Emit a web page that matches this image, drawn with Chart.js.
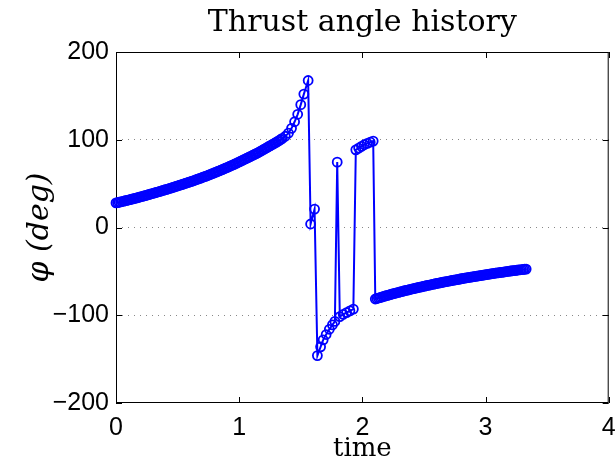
<head>
  <meta charset="utf-8" />
  <title>Thrust angle history</title>
  <script src="https://cdn.jsdelivr.net/npm/chart.js"></script>
  <style>
    body { margin: 0; background: #fff; }
  </style>
</head>

<body>
  <canvas id="thrust" width="615" height="468"></canvas>
</body>

<script>
  // smooth rise before the first switch
  const riseTimes = [
    0.0000, 0.0125, 0.0250, 0.0375, 0.0500, 0.0625, 0.0750, 0.0875, 0.1000, 0.1125,
    0.1250, 0.1375, 0.1500, 0.1625, 0.1750, 0.1875, 0.2000, 0.2125, 0.2250, 0.2375,
    0.2500, 0.2625, 0.2750, 0.2875, 0.3000, 0.3125, 0.3250, 0.3375, 0.3500, 0.3625,
    0.3750, 0.3875, 0.4000, 0.4125, 0.4250, 0.4375, 0.4500, 0.4625, 0.4750, 0.4875,
    0.5000, 0.5125, 0.5250, 0.5375, 0.5500, 0.5625, 0.5750, 0.5875, 0.6000, 0.6125,
    0.6250, 0.6375, 0.6500, 0.6625, 0.6750, 0.6875, 0.7000, 0.7125, 0.7250, 0.7375,
    0.7500, 0.7625, 0.7750, 0.7875, 0.8000, 0.8125, 0.8250, 0.8375, 0.8500, 0.8625,
    0.8750, 0.8875, 0.9000, 0.9125, 0.9250, 0.9375, 0.9500, 0.9625, 0.9750, 0.9875,
    1.0000, 1.0125, 1.0250, 1.0375, 1.0500, 1.0625, 1.0750, 1.0875, 1.1000, 1.1125,
    1.1250, 1.1375, 1.1500, 1.1625, 1.1750, 1.1875, 1.2000, 1.2125, 1.2250, 1.2375,
    1.2500, 1.2625, 1.2750, 1.2875, 1.3000, 1.3125, 1.3250, 1.3375, 1.3500, 1.3750,
    1.4000, 1.4250, 1.4500, 1.4750, 1.5000, 1.5250, 1.5600
  ];
  const riseAngles = [
    28.0, 28.4, 28.8, 29.2, 29.6, 30.0, 30.5, 30.9, 31.3, 31.7,
    32.2, 32.6, 33.1, 33.5, 34.0, 34.5, 35.0, 35.4, 35.9, 36.4,
    36.9, 37.4, 37.9, 38.4, 38.9, 39.4, 39.9, 40.4, 40.9, 41.4,
    42.0, 42.5, 43.0, 43.5, 44.1, 44.6, 45.2, 45.7, 46.3, 46.8,
    47.4, 47.9, 48.5, 49.0, 49.6, 50.2, 50.8, 51.4, 52.0, 52.6,
    53.2, 53.8, 54.4, 55.0, 55.7, 56.3, 57.0, 57.6, 58.3, 58.9,
    59.6, 60.3, 61.0, 61.7, 62.4, 63.1, 63.8, 64.5, 65.3, 66.0,
    66.8, 67.5, 68.3, 69.0, 69.8, 70.6, 71.4, 72.2, 73.0, 73.8,
    74.7, 75.5, 76.4, 77.2, 78.1, 78.9, 79.8, 80.6, 81.5, 82.4,
    83.3, 84.2, 85.1, 86.0, 87.0, 88.0, 89.0, 90.0, 91.0, 92.0,
    93.0, 94.0, 95.0, 96.0, 97.0, 98.1, 99.2, 100.3, 101.5, 104.0,
    107.5, 113.0, 120.5, 129.0, 140.0, 152.0, 167.5
  ];

  // switching part
  const switchTimes = [
    1.580, 1.612, 1.635, 1.661, 1.682, 1.706, 1.732, 1.757, 1.777, 1.796,
    1.817, 1.844, 1.872, 1.899, 1.927, 1.947, 1.970, 1.993, 2.016, 2.040,
    2.064, 2.088
  ];
  const switchAngles = [
    4, 21, -146, -136, -128, -122, -116, -111, -107, 74.5,
    -101.5, -99, -97, -95, -93, 88.5, 90.5, 92.5, 94.3, 95.8,
    97.2, 98.5
  ];

  // slow tail
  const tailTimes = [
    2.1050, 2.1175, 2.1300, 2.1425, 2.1550, 2.1675, 2.1800, 2.1925, 2.2050, 2.2175,
    2.2300, 2.2425, 2.2550, 2.2675, 2.2800, 2.2925, 2.3050, 2.3175, 2.3300, 2.3425,
    2.3550, 2.3675, 2.3800, 2.3925, 2.4050, 2.4175, 2.4300, 2.4425, 2.4550, 2.4675,
    2.4800, 2.4925, 2.5050, 2.5175, 2.5300, 2.5425, 2.5550, 2.5675, 2.5800, 2.5925,
    2.6050, 2.6175, 2.6300, 2.6425, 2.6550, 2.6675, 2.6800, 2.6925, 2.7050, 2.7175,
    2.7300, 2.7425, 2.7550, 2.7675, 2.7800, 2.7925, 2.8050, 2.8175, 2.8300, 2.8425,
    2.8550, 2.8675, 2.8800, 2.8925, 2.9050, 2.9175, 2.9300, 2.9425, 2.9550, 2.9675,
    2.9800, 2.9925, 3.0050, 3.0175, 3.0300, 3.0425, 3.0550, 3.0675, 3.0800, 3.0925,
    3.1050, 3.1175, 3.1300, 3.1425, 3.1550, 3.1675, 3.1800, 3.1925, 3.2050, 3.2175,
    3.2300, 3.2425, 3.2550, 3.2675, 3.2800, 3.2925, 3.3050, 3.3175, 3.3300
  ];
  const tailAngles = [
    -81.5, -80.9, -80.4, -79.9, -79.4, -78.8, -78.3, -77.8, -77.3, -76.8,
    -76.3, -75.8, -75.4, -74.9, -74.4, -73.9, -73.5, -73.0, -72.6, -72.1,
    -71.7, -71.3, -70.9, -70.4, -70.0, -69.6, -69.2, -68.8, -68.4, -68.0,
    -67.6, -67.2, -66.8, -66.4, -66.0, -65.6, -65.3, -64.9, -64.5, -64.1,
    -63.8, -63.4, -63.1, -62.7, -62.4, -62.0, -61.7, -61.3, -61.0, -60.7,
    -60.4, -60.0, -59.7, -59.4, -59.1, -58.7, -58.4, -58.1, -57.8, -57.5,
    -57.2, -56.9, -56.6, -56.3, -56.0, -55.7, -55.4, -55.1, -54.8, -54.5,
    -54.3, -54.0, -53.7, -53.4, -53.2, -52.9, -52.6, -52.3, -52.1, -51.8,
    -51.6, -51.3, -51.1, -50.8, -50.6, -50.3, -50.1, -49.8, -49.6, -49.3,
    -49.1, -48.9, -48.7, -48.4, -48.2, -48.0, -47.8, -47.6, -47.4
  ];

  const xTicks = [0, 1, 2, 3, 4];
  const yTicks = [-200, -100, 0, 100, 200];

  const times = riseTimes.concat(switchTimes, tailTimes);
  const angles = riseAngles.concat(switchAngles, tailAngles);
  const points = times.map((t, i) => ({ x: t, y: angles[i] }));

  // matlab style box with inward ticks
  const framePlugin = {
    id: "frame",
    beforeDatasetsDraw(chart) {
      const { ctx, chartArea: a, scales } = chart;
      ctx.save();
      ctx.strokeStyle = "#000";
      ctx.lineWidth = 1;
      ctx.strokeRect(a.left + 0.5, a.top + 0.5, a.right - a.left - 1, a.bottom - a.top - 1);
      ctx.beginPath();
      xTicks.forEach((v) => {
        const px = Math.round(scales.x.getPixelForValue(v)) + 0.5;
        ctx.moveTo(px, a.bottom);
        ctx.lineTo(px, a.bottom - 6);
        ctx.moveTo(px, a.top);
        ctx.lineTo(px, a.top + 6);
      });
      yTicks.forEach((v) => {
        const py = Math.round(scales.y.getPixelForValue(v)) + 0.5;
        ctx.moveTo(a.left, py);
        ctx.lineTo(a.left + 6, py);
        ctx.moveTo(a.right, py);
        ctx.lineTo(a.right - 6, py);
      });
      ctx.stroke();
      ctx.restore();
    },
  };

  const minus = (v) => String(v).replace("-", "\u2212");

  new Chart(document.getElementById("thrust"), {
    type: "scatter",
    data: {
      datasets: [
        {
          data: points,
          showLine: true,
          borderColor: "#0000ff",
          borderWidth: 2,
          pointRadius: 4.5,
          pointBorderWidth: 1.8,
          pointBorderColor: "#0000ff",
          pointBackgroundColor: "rgba(0,0,0,0)",
          clip: false,
        },
      ],
    },
    options: {
      responsive: false,
      animation: false,
      layout: { padding: { left: 0, right: 4, top: 0, bottom: 0 } },
      plugins: {
        legend: { display: false },
        tooltip: { enabled: false },
        title: {
          display: true,
          fullSize: false,
          text: "Thrust angle history",
          color: "#000",
          font: { family: "DejaVu Serif", size: 30, weight: "normal" },
          padding: { top: 5, bottom: 11 },
        },
      },
      scales: {
        x: {
          type: "linear",
          min: 0,
          max: 4,
          afterBuildTicks: (s) => { s.ticks = xTicks.map((v) => ({ value: v })); },
          afterFit: (s) => { s.height = 65; s.paddingRight = 0; },
          grid: { display: false },
          border: { display: false },
          ticks: {
            color: "#000",
            padding: 2,
            font: { family: "Liberation Sans", size: 25 },
            callback: minus,
          },
          title: {
            display: true,
            text: "time",
            color: "#000",
            font: { family: "DejaVu Serif", size: 26 },
            padding: { top: 0, bottom: 3 },
          },
        },
        y: {
          min: -200,
          max: 200,
          afterBuildTicks: (s) => { s.ticks = yTicks.map((v) => ({ value: v })); },
          afterFit: (s) => { s.width = 116; },
          grid: {
            drawTicks: false,
            color: (c) => (c.tick && Math.abs(c.tick.value) === 200 ? "rgba(0,0,0,0)" : "#888"),
            lineWidth: 1,
          },
          border: { display: false, dash: [1, 5] },
          ticks: {
            color: "#000",
            padding: 7,
            font: { family: "Liberation Sans", size: 25 },
            callback: minus,
          },
          title: {
            display: true,
            text: "\u03c6 (deg)",
            color: "#000",
            font: { family: "DejaVu Serif", size: 30, style: "italic" },
            padding: { top: 22, bottom: 0 },
          },
        },
      },
    },
    plugins: [framePlugin],
  });
</script>
